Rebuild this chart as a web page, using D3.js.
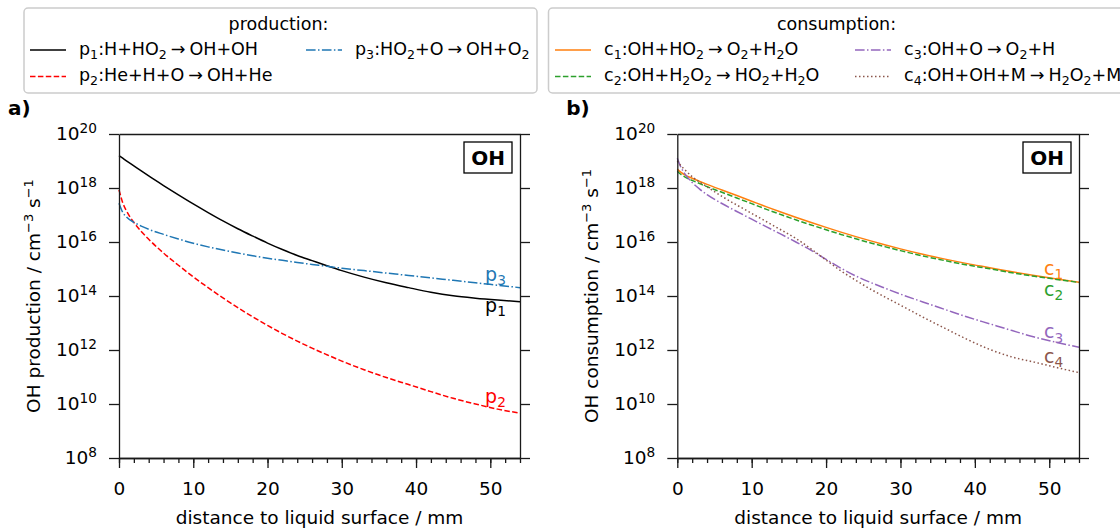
<!DOCTYPE html>
<html>
<head>
<meta charset="utf-8">
<script src="https://cdn.jsdelivr.net/npm/d3@7"></script>
<style>
  body { margin: 0; background: #fff; }
  svg { font-family: "DejaVu Sans", sans-serif; }
</style>
</head>
<body>
<svg id="chart" width="1120" height="529"></svg>
<script>
// distance to liquid surface / mm (shared grid for both panels)
var dist = [0, 0.5, 1, 2, 3, 4, 6, 8, 10, 12, 14, 16, 18, 20, 22, 24, 26, 28, 30, 33, 36, 39, 42, 45, 48, 51, 54];

// production rates / cm^-3 s^-1
var p1 = [1.58e19, 1.27e19, 1.02e19, 6.6e18, 4.27e18, 2.79e18, 1.23e18, 5.56e17, 2.57e17, 1.23e17, 6.03e16, 3.09e16, 1.66e16, 9.12e15, 5.25e15, 3.16e15, 2.04e15, 1.32e15, 8.71e14, 5.01e14, 3.09e14, 2.04e14, 1.38e14, 1.02e14, 8.32e13, 7.08e13, 6.17e13];
var p2 = [8.51e17, 2.85e17, 1.43e17, 5.31e16, 2.45e16, 1.26e16, 3.89e15, 1.38e15, 5.13e14, 2.04e14, 8.51e13, 3.72e13, 1.70e13, 8.13e12, 4.07e12, 2.14e12, 1.17e12, 6.68e11, 3.89e11, 1.86e11, 9.55e10, 5.25e10, 2.88e10, 1.62e10, 1.0e10, 6.46e9, 4.57e9];
var p3 = [2.75e17, 1.26e17, 8.51e16, 5.37e16, 3.89e16, 2.95e16, 1.91e16, 1.29e16, 9.02e15, 6.61e15, 5.01e15, 3.89e15, 3.09e15, 2.51e15, 2.09e15, 1.74e15, 1.48e15, 1.26e15, 1.07e15, 8.71e14, 7.08e14, 5.75e14, 4.68e14, 3.80e14, 3.09e14, 2.51e14, 2.04e14];

// consumption rates / cm^-3 s^-1
var c1 = [5.01e18, 3.80e18, 3.09e18, 2.29e18, 1.76e18, 1.36e18, 8.41e17, 5.25e17, 3.24e17, 2.0e17, 1.26e17, 8.04e16, 5.25e16, 3.47e16, 2.32e16, 1.58e16, 1.10e16, 7.76e15, 5.56e15, 3.51e15, 2.32e15, 1.58e15, 1.12e15, 7.85e14, 5.69e14, 4.27e14, 3.24e14];
var c2 = [4.17e18, 3.16e18, 2.57e18, 1.91e18, 1.46e18, 1.12e18, 6.92e17, 4.27e17, 2.63e17, 1.62e17, 1.02e17, 6.53e16, 4.27e16, 2.85e16, 1.91e16, 1.32e16, 9.23e15, 6.61e15, 4.79e15, 3.05e15, 2.04e15, 1.41e15, 1.02e15, 7.24e14, 5.37e14, 4.12e14, 3.16e14];
var c3 = [1.26e19, 5.75e18, 3.39e18, 1.60e18, 9.12e17, 5.69e17, 2.66e17, 1.35e17, 7.0e16, 3.63e16, 1.91e16, 9.77e15, 4.90e15, 2.29e15, 1.07e15, 5.50e14, 3.16e14, 1.91e14, 1.17e14, 6.03e13, 3.16e13, 1.66e13, 9.33e12, 5.25e12, 3.02e12, 1.91e12, 1.26e12];
var c4 = [1.0e19, 6.61e18, 4.79e18, 2.63e18, 1.66e18, 1.10e18, 4.90e17, 2.34e17, 1.15e17, 5.62e16, 2.75e16, 1.32e16, 5.50e15, 2.14e15, 8.51e14, 3.80e14, 1.78e14, 8.91e13, 4.57e13, 1.66e13, 6.31e12, 2.45e12, 1.05e12, 5.50e11, 3.55e11, 2.24e11, 1.45e11];

// tick values
var xMajor = [0, 10, 20, 30, 40, 50];
var xMinor = d3.range(0, 55, 2);
var yTicks = [1e8, 1e10, 1e12, 1e14, 1e16, 1e18, 1e20];

// legend / series labels ("_x" marks a subscript)
var prodNames = ["p_1", "p_2", "p_3"];
var prodReactions = ["H+HO_2→OH+OH", "He+H+O→OH+He", "HO_2+O→OH+O_2"];
var consNames = ["c_1", "c_2", "c_3", "c_4"];
var consReactions = ["OH+HO_2→O_2+H_2O", "OH+H_2O_2→HO_2+H_2O", "OH+O→O_2+H", "OH+OH+M→H_2O_2+M"];

var styles = {
  p_1: {color: "#000000", dash: null},
  p_2: {color: "#ff0000", dash: "5.5,2.4"},
  p_3: {color: "#1f77b4", dash: "9.6,2.4,1.5,2.4"},
  c_1: {color: "#ff7f0e", dash: null},
  c_2: {color: "#2ca02c", dash: "5.5,2.4"},
  c_3: {color: "#9467bd", dash: "9.6,2.4,1.5,2.4"},
  c_4: {color: "#8c564b", dash: "1.5,2.5"}
};

var svg = d3.select("#chart");
var fontSize = 18.5;

// write a string with "_x" subscripts and a spaced arrow into a text element
function richText(text, str, size) {
  var parts = str.match(/_.|→|[^_→]+/g);
  var shift = 0;
  var gap = 0;
  parts.forEach(function(p) {
    if (p[0] == "_") {
      var sub = size * 0.23;
      text.append("tspan").attr("dy", sub - shift).attr("dx", gap).attr("font-size", size * 0.72).text(p[1]);
      shift = sub;
      gap = 0;
    } else if (p == "→") {
      text.append("tspan").attr("dy", -shift).attr("dx", 4).text("→");
      shift = 0;
      gap = 4;
    } else {
      text.append("tspan").attr("dy", -shift).attr("dx", gap).text(p);
      shift = 0;
      gap = 0;
    }
  });
}

var y = d3.scaleLog().domain([1e8, 1e20]).range([458, 134]);

function drawPanel(left, right, tag, yTitle, names, series, labelPos) {
  var x = d3.scaleLinear().domain([0, 54]).range([left, right]);
  var g = svg.append("g");

  var line = d3.line()
    .x(function(d) { return x(d[0]); })
    .y(function(d) { return y(d[1]); })
    .curve(d3.curveMonotoneX);

  series.forEach(function(s, i) {
    var st = styles[names[i]];
    g.append("path")
      .datum(dist.map(function(v, j) { return [v, s[j]]; }))
      .attr("d", line)
      .attr("fill", "none")
      .attr("stroke", st.color)
      .attr("stroke-width", 1.5)
      .attr("stroke-dasharray", st.dash);
  });

  // series labels at the right end
  names.forEach(function(n, i) {
    var t = g.append("text")
      .attr("x", x(labelPos[i][0]))
      .attr("y", y(labelPos[i][1]))
      .attr("fill", styles[n].color)
      .attr("font-size", 19);
    richText(t, n, 19);
  });

  // axes
  var yl = g.append("g").attr("transform", "translate(" + left + ",0)")
    .call(d3.axisLeft(y).tickValues(yTicks).tickSize(10).tickSizeOuter(0).tickPadding(12));
  yl.selectAll(".tick text").each(function(d) {
    var t = d3.select(this);
    t.text(null);
    t.append("tspan").text("10");
    t.append("tspan").attr("dy", "-0.55em").attr("font-size", "0.74em").text(Math.round(Math.log10(d)));
  });
  g.append("g").attr("transform", "translate(" + right + ",0)")
    .call(d3.axisRight(y).tickValues(yTicks).tickSize(10).tickSizeOuter(0).tickFormat(""));
  g.append("g").attr("transform", "translate(0,134)")
    .call(d3.axisTop(x).tickValues([]).tickSizeOuter(0));
  g.append("g").attr("transform", "translate(0,458)")
    .call(d3.axisBottom(x).tickValues(xMinor).tickSize(5).tickSizeOuter(0).tickFormat(""));
  g.append("g").attr("transform", "translate(0,458)")
    .call(d3.axisBottom(x).tickValues(xMajor).tickSize(10).tickSizeOuter(0).tickPadding(14));

  g.selectAll(".domain, .tick line").attr("stroke", "#1a1a1a").attr("stroke-width", 1.3);
  g.selectAll(".tick text").attr("fill", "#000").attr("font-size", fontSize)
    .attr("font-family", "DejaVu Sans, sans-serif");

  // axis titles
  g.append("text")
    .attr("x", (left + right) / 2)
    .attr("y", 524)
    .attr("text-anchor", "middle")
    .attr("font-size", fontSize)
    .text("distance to liquid surface / mm");

  var yt = g.append("text")
    .attr("transform", "translate(" + (left - 79) + ",296) rotate(-90)")
    .attr("text-anchor", "middle")
    .attr("font-size", fontSize);
  yt.append("tspan").text(yTitle + " / cm");
  yt.append("tspan").attr("dy", -7).attr("font-size", 13).text("−3");
  yt.append("tspan").attr("dy", 7).text(" s");
  yt.append("tspan").attr("dy", -7).attr("font-size", 13).text("−1");

  // panel tag
  g.append("text")
    .attr("x", left - 111)
    .attr("y", 115)
    .attr("font-size", 20)
    .attr("font-weight", "bold")
    .text(tag);

  // species box
  g.append("rect")
    .attr("x", right - 56).attr("y", 142)
    .attr("width", 48).attr("height", 31)
    .attr("fill", "#fff").attr("stroke", "#000").attr("stroke-width", 1.3);
  g.append("text")
    .attr("x", right - 32).attr("y", 165)
    .attr("text-anchor", "middle")
    .attr("font-size", 20)
    .attr("font-weight", "bold")
    .text("OH");
}

drawPanel(119, 520, "a)", "OH production", prodNames, [p1, p2, p3],
  [[49.3, 2.6e13], [49.3, 1.1e10], [49.3, 3.6e14]]);
drawPanel(677.3, 1079, "b)", "OH consumption", consNames, [c1, c2, c3, c4],
  [[49.3, 6.0e14], [49.3, 1.0e14], [49.3, 2.75e12], [49.3, 3.3e11]]);

// legends
function drawLegend(bx, bw, title, names, reactions, cols) {
  var lg = svg.append("g");
  lg.append("rect")
    .attr("x", bx).attr("y", 8)
    .attr("width", bw).attr("height", 85)
    .attr("rx", 4)
    .attr("fill", "#fff")
    .attr("stroke", "#cccccc")
    .attr("stroke-width", 1.5);
  lg.append("text")
    .attr("x", bx + bw / 2 - 2).attr("y", 30)
    .attr("text-anchor", "middle")
    .attr("font-size", 17.5)
    .text(title);
  names.forEach(function(n, i) {
    var col = cols[Math.floor(i / 2)];
    var rowY = i % 2 == 0 ? 54.5 : 81;
    var st = styles[n];
    lg.append("line")
      .attr("x1", col).attr("x2", col + 36)
      .attr("y1", rowY - 4.5).attr("y2", rowY - 4.5)
      .attr("stroke", st.color)
      .attr("stroke-width", 1.5)
      .attr("stroke-dasharray", st.dash);
    var t = lg.append("text")
      .attr("x", col + 49).attr("y", rowY)
      .attr("font-size", 17.5);
    richText(t, n + ":" + reactions[i], 17.5);
  });
}

drawLegend(24, 513, "production:", prodNames, prodReactions, [30, 306]);
drawLegend(548.5, 580, "consumption:", consNames, consReactions, [555, 855]);
</script>
</body>
</html>
